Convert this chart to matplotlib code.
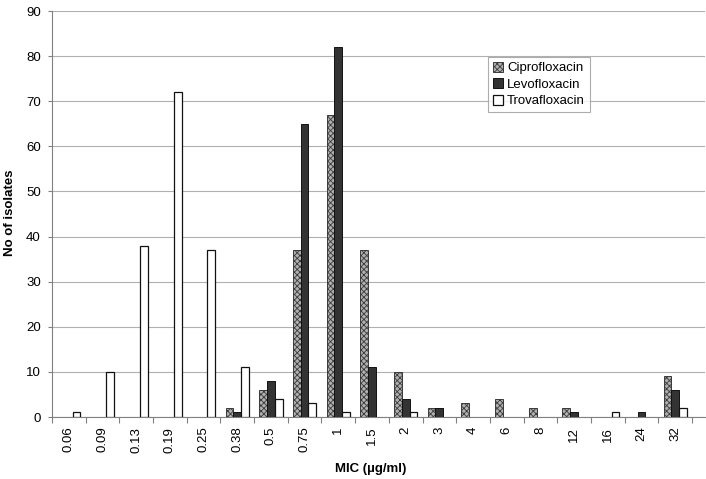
import matplotlib
matplotlib.use("Agg")
import matplotlib.pyplot as plt
from matplotlib.patches import Patch
import numpy as np

categories = ["0.06", "0.09", "0.13", "0.19", "0.25", "0.38", "0.5", "0.75", "1", "1.5",
              "2", "3", "4", "6", "8", "12", "16", "24", "32"]
cipro = [0, 0, 0, 0, 0, 2, 6, 37, 67, 37, 10, 2, 3, 4, 2, 2, 0, 0, 9]
levo = [0, 0, 0, 0, 0, 1, 8, 65, 82, 11, 4, 2, 0, 0, 0, 1, 0, 1, 6]
trova = [1, 10, 38, 72, 37, 11, 4, 3, 1, 0, 1, 0, 0, 0, 0, 0, 1, 0, 2]
series_names = ["Ciprofloxacin", "Levofloxacin", "Trovafloxacin"]
yticks = [0, 10, 20, 30, 40, 50, 60, 70, 80, 90]

plt.rcParams['font.family'] = ['Liberation Sans', 'DejaVu Sans']
plt.rcParams['hatch.linewidth'] = 0.6
plt.rcParams['hatch.color'] = '#505050'

FS = 9.5
fig = plt.figure(figsize=(7.06, 4.79), dpi=100)
W, H = 706, 479
left, right, bottom, top = 52, 705, 417, 11
ax = fig.add_axes([left / W, 1 - bottom / H, (right - left) / W, (bottom - top) / H])

styles = [
    dict(facecolor='#b0b0b0', edgecolor='#3a3a3a', hatch='xxxxxx', linewidth=0.7),
    dict(facecolor='#333333', edgecolor='#111111', linewidth=0.7),
    dict(facecolor='white', edgecolor='#111111', linewidth=0.9),
]

x = np.arange(len(categories))
bw = 0.23
for i, vals in enumerate([cipro, levo, trova]):
    bars = ax.bar(x + (i - 1) * bw, vals, bw, zorder=3, **styles[i])
    for p in bars.patches:
        if p.get_height() == 0:
            p.set_visible(False)

ax.set_ylim(0, 90)
ax.set_yticks(yticks)
ax.set_xlim(-0.5, 18.5 + 13 / 33.6)
ax.yaxis.grid(True, color='#b0b0b0', linewidth=0.8, zorder=0)
ax.set_axisbelow(True)

ax.set_xticks(x)
ax.set_xticklabels(categories, rotation=90, fontsize=FS)
ax.tick_params(axis='x', which='major', length=0, pad=7)
ax.set_xticks(np.arange(-0.5, 19, 1.0), minor=True)
ax.tick_params(axis='x', which='minor', length=4, color='#808080', width=0.8)
ax.tick_params(axis='y', labelsize=FS, length=3, color='#808080', width=0.8, pad=5)

for s in ['top', 'right']:
    ax.spines[s].set_visible(False)
for s in ['left', 'bottom']:
    ax.spines[s].set_color('#808080')
    ax.spines[s].set_linewidth(0.8)

fig.text(371 / W, 1 - 469 / H, "MIC (µg/ml)", ha='center', va='center',
         fontsize=FS, fontweight='bold')
fig.text(10 / W, 1 - 213 / H, "No of isolates", ha='center', va='center',
         rotation=90, fontsize=FS, fontweight='bold')

handles = [Patch(label=n, **s) for n, s in zip(series_names, styles)]
leg = ax.legend(handles=handles, loc='upper left',
                bbox_to_anchor=((488 - left) / (right - left), (bottom - 57) / (bottom - top)),
                fontsize=FS, frameon=True, fancybox=False, borderpad=0.35,
                handlelength=0.8, handleheight=0.8, handletextpad=0.3, labelspacing=0.3,
                borderaxespad=0)
leg.get_frame().set_edgecolor('#999999')
leg.get_frame().set_linewidth(0.8)

fig.savefig("out.png", dpi=100)
